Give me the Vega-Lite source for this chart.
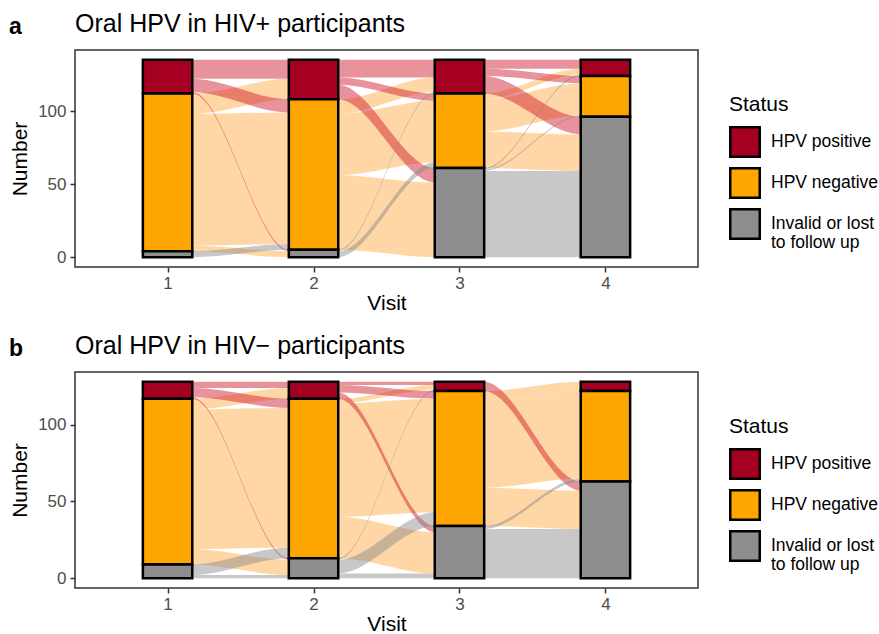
{
"$schema": "https://vega.github.io/schema/vega-lite/v6.json",
"padding": {"left": 8, "top": 11, "right": 0, "bottom": 0},
"background": "white",
"config": {
  "font": "Liberation Sans",
  "style": {"guide-label": {"lineHeight": 19}},
  "view": {"stroke": "#333333", "strokeWidth": 1.5},
  "axis": {"grid": false, "domain": false, "tickColor": "#333333", "tickWidth": 1.5, "tickSize": 5, "labelColor": "#4D4D4D", "labelFontSize": 17, "titleFontSize": 21, "titleFontWeight": "normal", "titleColor": "#000000", "labelPadding": 3},
  "legend": {"titleFontSize": 21, "titleFontWeight": "normal", "titleColor": "#000000", "labelFontSize": 17.5, "labelColor": "#000000", "symbolType": "square", "symbolSize": 870, "symbolStrokeColor": "#000000", "symbolStrokeWidth": 2.5, "symbolOpacity": 1, "rowPadding": 1, "labelOffset": 10, "titlePadding": 11, "gridAlign": "none", "labelLimit": 200},
  "title": {"color": "#000000", "fontWeight": "normal"}
},
"datasets": {
  "strata": [
    {"p":"a","visit":1,"s":"HPV positive","code":1,"n":23},
    {"p":"a","visit":1,"s":"HPV negative","code":2,"n":108},
    {"p":"a","visit":1,"s":"Invalid or lost to follow up","code":3,"n":4},
    {"p":"a","visit":2,"s":"HPV positive","code":1,"n":27},
    {"p":"a","visit":2,"s":"HPV negative","code":2,"n":103},
    {"p":"a","visit":2,"s":"Invalid or lost to follow up","code":3,"n":5},
    {"p":"a","visit":3,"s":"HPV positive","code":1,"n":23},
    {"p":"a","visit":3,"s":"HPV negative","code":2,"n":51},
    {"p":"a","visit":3,"s":"Invalid or lost to follow up","code":3,"n":61},
    {"p":"a","visit":4,"s":"HPV positive","code":1,"n":11},
    {"p":"a","visit":4,"s":"HPV negative","code":2,"n":28},
    {"p":"a","visit":4,"s":"Invalid or lost to follow up","code":3,"n":96},
    {"p":"b","visit":1,"s":"HPV positive","code":1,"n":11},
    {"p":"b","visit":1,"s":"HPV negative","code":2,"n":108},
    {"p":"b","visit":1,"s":"Invalid or lost to follow up","code":3,"n":9},
    {"p":"b","visit":2,"s":"HPV positive","code":1,"n":11},
    {"p":"b","visit":2,"s":"HPV negative","code":2,"n":104},
    {"p":"b","visit":2,"s":"Invalid or lost to follow up","code":3,"n":13},
    {"p":"b","visit":3,"s":"HPV positive","code":1,"n":6},
    {"p":"b","visit":3,"s":"HPV negative","code":2,"n":88},
    {"p":"b","visit":3,"s":"Invalid or lost to follow up","code":3,"n":34},
    {"p":"b","visit":4,"s":"HPV positive","code":1,"n":6},
    {"p":"b","visit":4,"s":"HPV negative","code":2,"n":59},
    {"p":"b","visit":4,"s":"Invalid or lost to follow up","code":3,"n":63}
  ],
  "flows": [
    {"p":"a","f":"a1NN","s":"HPV negative","pos":1,"lo":8,"hi":98},{"p":"a","f":"a1NN","s":"HPV negative","pos":1.1667,"lo":8,"hi":98},{"p":"a","f":"a1NN","s":"HPV negative","pos":1.8333,"lo":9,"hi":99},{"p":"a","f":"a1NN","s":"HPV negative","pos":2,"lo":9,"hi":99},
    {"p":"a","f":"a1NP","s":"HPV negative","pos":1,"lo":98,"hi":112},{"p":"a","f":"a1NP","s":"HPV negative","pos":1.1667,"lo":98,"hi":112},{"p":"a","f":"a1NP","s":"HPV negative","pos":1.8333,"lo":108,"hi":122},{"p":"a","f":"a1NP","s":"HPV negative","pos":2,"lo":108,"hi":122},
    {"p":"a","f":"a1NI","s":"HPV negative","pos":1,"lo":4,"hi":8},{"p":"a","f":"a1NI","s":"HPV negative","pos":1.1667,"lo":4,"hi":8},{"p":"a","f":"a1NI","s":"HPV negative","pos":1.8333,"lo":0,"hi":4},{"p":"a","f":"a1NI","s":"HPV negative","pos":2,"lo":0,"hi":4},
    {"p":"a","f":"a1PP","s":"HPV positive","pos":1,"lo":122,"hi":135},{"p":"a","f":"a1PP","s":"HPV positive","pos":1.1667,"lo":122,"hi":135},{"p":"a","f":"a1PP","s":"HPV positive","pos":1.8333,"lo":122,"hi":135},{"p":"a","f":"a1PP","s":"HPV positive","pos":2,"lo":122,"hi":135},
    {"p":"a","f":"a1PN","s":"HPV positive","pos":1,"lo":113,"hi":122},{"p":"a","f":"a1PN","s":"HPV positive","pos":1.1667,"lo":113,"hi":122},{"p":"a","f":"a1PN","s":"HPV positive","pos":1.8333,"lo":99,"hi":108},{"p":"a","f":"a1PN","s":"HPV positive","pos":2,"lo":99,"hi":108},
    {"p":"a","f":"a1PI","s":"HPV positive","pos":1,"lo":112,"hi":113},{"p":"a","f":"a1PI","s":"HPV positive","pos":1.1667,"lo":112,"hi":113},{"p":"a","f":"a1PI","s":"HPV positive","pos":1.8333,"lo":4,"hi":5},{"p":"a","f":"a1PI","s":"HPV positive","pos":2,"lo":4,"hi":5},
    {"p":"a","f":"a1IN","s":"Invalid or lost to follow up","pos":1,"lo":0,"hi":4},{"p":"a","f":"a1IN","s":"Invalid or lost to follow up","pos":1.1667,"lo":0,"hi":4},{"p":"a","f":"a1IN","s":"Invalid or lost to follow up","pos":1.8333,"lo":5,"hi":9},{"p":"a","f":"a1IN","s":"Invalid or lost to follow up","pos":2,"lo":5,"hi":9},

    {"p":"a","f":"a2NN","s":"HPV negative","pos":2,"lo":56,"hi":98},{"p":"a","f":"a2NN","s":"HPV negative","pos":2.1667,"lo":56,"hi":98},{"p":"a","f":"a2NN","s":"HPV negative","pos":2.8333,"lo":65,"hi":107},{"p":"a","f":"a2NN","s":"HPV negative","pos":3,"lo":65,"hi":107},
    {"p":"a","f":"a2NP","s":"HPV negative","pos":2,"lo":98,"hi":108},{"p":"a","f":"a2NP","s":"HPV negative","pos":2.1667,"lo":98,"hi":108},{"p":"a","f":"a2NP","s":"HPV negative","pos":2.8333,"lo":113,"hi":123},{"p":"a","f":"a2NP","s":"HPV negative","pos":3,"lo":113,"hi":123},
    {"p":"a","f":"a2NI","s":"HPV negative","pos":2,"lo":5,"hi":56},{"p":"a","f":"a2NI","s":"HPV negative","pos":2.1667,"lo":5,"hi":56},{"p":"a","f":"a2NI","s":"HPV negative","pos":2.8333,"lo":0,"hi":51},{"p":"a","f":"a2NI","s":"HPV negative","pos":3,"lo":0,"hi":51},
    {"p":"a","f":"a2PP","s":"HPV positive","pos":2,"lo":123,"hi":135},{"p":"a","f":"a2PP","s":"HPV positive","pos":2.1667,"lo":123,"hi":135},{"p":"a","f":"a2PP","s":"HPV positive","pos":2.8333,"lo":123,"hi":135},{"p":"a","f":"a2PP","s":"HPV positive","pos":3,"lo":123,"hi":135},
    {"p":"a","f":"a2PN","s":"HPV positive","pos":2,"lo":118,"hi":123},{"p":"a","f":"a2PN","s":"HPV positive","pos":2.1667,"lo":118,"hi":123},{"p":"a","f":"a2PN","s":"HPV positive","pos":2.8333,"lo":107,"hi":112},{"p":"a","f":"a2PN","s":"HPV positive","pos":3,"lo":107,"hi":112},
    {"p":"a","f":"a2PI","s":"HPV positive","pos":2,"lo":108,"hi":118},{"p":"a","f":"a2PI","s":"HPV positive","pos":2.1667,"lo":108,"hi":118},{"p":"a","f":"a2PI","s":"HPV positive","pos":2.8333,"lo":51,"hi":61},{"p":"a","f":"a2PI","s":"HPV positive","pos":3,"lo":51,"hi":61},
    {"p":"a","f":"a2IP","s":"Invalid or lost to follow up","pos":2,"lo":4,"hi":5},{"p":"a","f":"a2IP","s":"Invalid or lost to follow up","pos":2.1667,"lo":4,"hi":5},{"p":"a","f":"a2IP","s":"Invalid or lost to follow up","pos":2.8333,"lo":112,"hi":113},{"p":"a","f":"a2IP","s":"Invalid or lost to follow up","pos":3,"lo":112,"hi":113},
    {"p":"a","f":"a2IN","s":"Invalid or lost to follow up","pos":2,"lo":0,"hi":4},{"p":"a","f":"a2IN","s":"Invalid or lost to follow up","pos":2.1667,"lo":0,"hi":4},{"p":"a","f":"a2IN","s":"Invalid or lost to follow up","pos":2.8333,"lo":61,"hi":65},{"p":"a","f":"a2IN","s":"Invalid or lost to follow up","pos":3,"lo":61,"hi":65},

    {"p":"a","f":"a3NN","s":"HPV negative","pos":3,"lo":86,"hi":108},{"p":"a","f":"a3NN","s":"HPV negative","pos":3.1667,"lo":86,"hi":108},{"p":"a","f":"a3NN","s":"HPV negative","pos":3.8333,"lo":97,"hi":119},{"p":"a","f":"a3NN","s":"HPV negative","pos":4,"lo":97,"hi":119},
    {"p":"a","f":"a3NP","s":"HPV negative","pos":3,"lo":108,"hi":112},{"p":"a","f":"a3NP","s":"HPV negative","pos":3.1667,"lo":108,"hi":112},{"p":"a","f":"a3NP","s":"HPV negative","pos":3.8333,"lo":125,"hi":129},{"p":"a","f":"a3NP","s":"HPV negative","pos":4,"lo":125,"hi":129},
    {"p":"a","f":"a3NI","s":"HPV negative","pos":3,"lo":61,"hi":86},{"p":"a","f":"a3NI","s":"HPV negative","pos":3.1667,"lo":61,"hi":86},{"p":"a","f":"a3NI","s":"HPV negative","pos":3.8333,"lo":59,"hi":84},{"p":"a","f":"a3NI","s":"HPV negative","pos":4,"lo":59,"hi":84},
    {"p":"a","f":"a3II","s":"Invalid or lost to follow up","pos":3,"lo":0,"hi":59},{"p":"a","f":"a3II","s":"Invalid or lost to follow up","pos":3.1667,"lo":0,"hi":59},{"p":"a","f":"a3II","s":"Invalid or lost to follow up","pos":3.8333,"lo":0,"hi":59},{"p":"a","f":"a3II","s":"Invalid or lost to follow up","pos":4,"lo":0,"hi":59},
    {"p":"a","f":"a3PP","s":"HPV positive","pos":3,"lo":129,"hi":135},{"p":"a","f":"a3PP","s":"HPV positive","pos":3.1667,"lo":129,"hi":135},{"p":"a","f":"a3PP","s":"HPV positive","pos":3.8333,"lo":129,"hi":135},{"p":"a","f":"a3PP","s":"HPV positive","pos":4,"lo":129,"hi":135},
    {"p":"a","f":"a3PN","s":"HPV positive","pos":3,"lo":124,"hi":129},{"p":"a","f":"a3PN","s":"HPV positive","pos":3.1667,"lo":124,"hi":129},{"p":"a","f":"a3PN","s":"HPV positive","pos":3.8333,"lo":119,"hi":124},{"p":"a","f":"a3PN","s":"HPV positive","pos":4,"lo":119,"hi":124},
    {"p":"a","f":"a3PI","s":"HPV positive","pos":3,"lo":112,"hi":124},{"p":"a","f":"a3PI","s":"HPV positive","pos":3.1667,"lo":112,"hi":124},{"p":"a","f":"a3PI","s":"HPV positive","pos":3.8333,"lo":84,"hi":96},{"p":"a","f":"a3PI","s":"HPV positive","pos":4,"lo":84,"hi":96},
    {"p":"a","f":"a3IP","s":"Invalid or lost to follow up","pos":3,"lo":60,"hi":61},{"p":"a","f":"a3IP","s":"Invalid or lost to follow up","pos":3.1667,"lo":60,"hi":61},{"p":"a","f":"a3IP","s":"Invalid or lost to follow up","pos":3.8333,"lo":124,"hi":125},{"p":"a","f":"a3IP","s":"Invalid or lost to follow up","pos":4,"lo":124,"hi":125},
    {"p":"a","f":"a3IN","s":"Invalid or lost to follow up","pos":3,"lo":59,"hi":60},{"p":"a","f":"a3IN","s":"Invalid or lost to follow up","pos":3.1667,"lo":59,"hi":60},{"p":"a","f":"a3IN","s":"Invalid or lost to follow up","pos":3.8333,"lo":96,"hi":97},{"p":"a","f":"a3IN","s":"Invalid or lost to follow up","pos":4,"lo":96,"hi":97},

    {"p":"b","f":"b1NN","s":"HPV negative","pos":1,"lo":19,"hi":110},{"p":"b","f":"b1NN","s":"HPV negative","pos":1.1667,"lo":19,"hi":110},{"p":"b","f":"b1NN","s":"HPV negative","pos":1.8333,"lo":20,"hi":111},{"p":"b","f":"b1NN","s":"HPV negative","pos":2,"lo":20,"hi":111},
    {"p":"b","f":"b1NP","s":"HPV negative","pos":1,"lo":110,"hi":117},{"p":"b","f":"b1NP","s":"HPV negative","pos":1.1667,"lo":110,"hi":117},{"p":"b","f":"b1NP","s":"HPV negative","pos":1.8333,"lo":117,"hi":124},{"p":"b","f":"b1NP","s":"HPV negative","pos":2,"lo":117,"hi":124},
    {"p":"b","f":"b1NI","s":"HPV negative","pos":1,"lo":9,"hi":19},{"p":"b","f":"b1NI","s":"HPV negative","pos":1.1667,"lo":9,"hi":19},{"p":"b","f":"b1NI","s":"HPV negative","pos":1.8333,"lo":2,"hi":12},{"p":"b","f":"b1NI","s":"HPV negative","pos":2,"lo":2,"hi":12},
    {"p":"b","f":"b1PP","s":"HPV positive","pos":1,"lo":124,"hi":128},{"p":"b","f":"b1PP","s":"HPV positive","pos":1.1667,"lo":124,"hi":128},{"p":"b","f":"b1PP","s":"HPV positive","pos":1.8333,"lo":124,"hi":128},{"p":"b","f":"b1PP","s":"HPV positive","pos":2,"lo":124,"hi":128},
    {"p":"b","f":"b1PN","s":"HPV positive","pos":1,"lo":118,"hi":124},{"p":"b","f":"b1PN","s":"HPV positive","pos":1.1667,"lo":118,"hi":124},{"p":"b","f":"b1PN","s":"HPV positive","pos":1.8333,"lo":111,"hi":117},{"p":"b","f":"b1PN","s":"HPV positive","pos":2,"lo":111,"hi":117},
    {"p":"b","f":"b1PI","s":"HPV positive","pos":1,"lo":117,"hi":118},{"p":"b","f":"b1PI","s":"HPV positive","pos":1.1667,"lo":117,"hi":118},{"p":"b","f":"b1PI","s":"HPV positive","pos":1.8333,"lo":12,"hi":13},{"p":"b","f":"b1PI","s":"HPV positive","pos":2,"lo":12,"hi":13},
    {"p":"b","f":"b1IN","s":"Invalid or lost to follow up","pos":1,"lo":2,"hi":9},{"p":"b","f":"b1IN","s":"Invalid or lost to follow up","pos":1.1667,"lo":2,"hi":9},{"p":"b","f":"b1IN","s":"Invalid or lost to follow up","pos":1.8333,"lo":13,"hi":20},{"p":"b","f":"b1IN","s":"Invalid or lost to follow up","pos":2,"lo":13,"hi":20},
    {"p":"b","f":"b1II","s":"Invalid or lost to follow up","pos":1,"lo":0,"hi":2},{"p":"b","f":"b1II","s":"Invalid or lost to follow up","pos":1.1667,"lo":0,"hi":2},{"p":"b","f":"b1II","s":"Invalid or lost to follow up","pos":1.8333,"lo":0,"hi":2},{"p":"b","f":"b1II","s":"Invalid or lost to follow up","pos":2,"lo":0,"hi":2},

    {"p":"b","f":"b2NN","s":"HPV negative","pos":2,"lo":40,"hi":114},{"p":"b","f":"b2NN","s":"HPV negative","pos":2.1667,"lo":40,"hi":114},{"p":"b","f":"b2NN","s":"HPV negative","pos":2.8333,"lo":43,"hi":117},{"p":"b","f":"b2NN","s":"HPV negative","pos":3,"lo":43,"hi":117},
    {"p":"b","f":"b2NP","s":"HPV negative","pos":2,"lo":114,"hi":117},{"p":"b","f":"b2NP","s":"HPV negative","pos":2.1667,"lo":114,"hi":117},{"p":"b","f":"b2NP","s":"HPV negative","pos":2.8333,"lo":123,"hi":126},{"p":"b","f":"b2NP","s":"HPV negative","pos":3,"lo":123,"hi":126},
    {"p":"b","f":"b2NI","s":"HPV negative","pos":2,"lo":13,"hi":40},{"p":"b","f":"b2NI","s":"HPV negative","pos":2.1667,"lo":13,"hi":40},{"p":"b","f":"b2NI","s":"HPV negative","pos":2.8333,"lo":3,"hi":30},{"p":"b","f":"b2NI","s":"HPV negative","pos":3,"lo":3,"hi":30},
    {"p":"b","f":"b2PP","s":"HPV positive","pos":2,"lo":126,"hi":128},{"p":"b","f":"b2PP","s":"HPV positive","pos":2.1667,"lo":126,"hi":128},{"p":"b","f":"b2PP","s":"HPV positive","pos":2.8333,"lo":126,"hi":128},{"p":"b","f":"b2PP","s":"HPV positive","pos":3,"lo":126,"hi":128},
    {"p":"b","f":"b2PN","s":"HPV positive","pos":2,"lo":121,"hi":126},{"p":"b","f":"b2PN","s":"HPV positive","pos":2.1667,"lo":121,"hi":126},{"p":"b","f":"b2PN","s":"HPV positive","pos":2.8333,"lo":117,"hi":122},{"p":"b","f":"b2PN","s":"HPV positive","pos":3,"lo":117,"hi":122},
    {"p":"b","f":"b2PI","s":"HPV positive","pos":2,"lo":117,"hi":121},{"p":"b","f":"b2PI","s":"HPV positive","pos":2.1667,"lo":117,"hi":121},{"p":"b","f":"b2PI","s":"HPV positive","pos":2.8333,"lo":30,"hi":34},{"p":"b","f":"b2PI","s":"HPV positive","pos":3,"lo":30,"hi":34},
    {"p":"b","f":"b2IP","s":"Invalid or lost to follow up","pos":2,"lo":12,"hi":13},{"p":"b","f":"b2IP","s":"Invalid or lost to follow up","pos":2.1667,"lo":12,"hi":13},{"p":"b","f":"b2IP","s":"Invalid or lost to follow up","pos":2.8333,"lo":122,"hi":123},{"p":"b","f":"b2IP","s":"Invalid or lost to follow up","pos":3,"lo":122,"hi":123},
    {"p":"b","f":"b2IN","s":"Invalid or lost to follow up","pos":2,"lo":3,"hi":12},{"p":"b","f":"b2IN","s":"Invalid or lost to follow up","pos":2.1667,"lo":3,"hi":12},{"p":"b","f":"b2IN","s":"Invalid or lost to follow up","pos":2.8333,"lo":34,"hi":43},{"p":"b","f":"b2IN","s":"Invalid or lost to follow up","pos":3,"lo":34,"hi":43},
    {"p":"b","f":"b2II","s":"Invalid or lost to follow up","pos":2,"lo":0,"hi":3},{"p":"b","f":"b2II","s":"Invalid or lost to follow up","pos":2.1667,"lo":0,"hi":3},{"p":"b","f":"b2II","s":"Invalid or lost to follow up","pos":2.8333,"lo":0,"hi":3},{"p":"b","f":"b2II","s":"Invalid or lost to follow up","pos":3,"lo":0,"hi":3},

    {"p":"b","f":"b3NN","s":"HPV negative","pos":3,"lo":59,"hi":116},{"p":"b","f":"b3NN","s":"HPV negative","pos":3.1667,"lo":59,"hi":116},{"p":"b","f":"b3NN","s":"HPV negative","pos":3.8333,"lo":65,"hi":122},{"p":"b","f":"b3NN","s":"HPV negative","pos":4,"lo":65,"hi":122},
    {"p":"b","f":"b3NP","s":"HPV negative","pos":3,"lo":116,"hi":122},{"p":"b","f":"b3NP","s":"HPV negative","pos":3.1667,"lo":116,"hi":122},{"p":"b","f":"b3NP","s":"HPV negative","pos":3.8333,"lo":122,"hi":128},{"p":"b","f":"b3NP","s":"HPV negative","pos":4,"lo":122,"hi":128},
    {"p":"b","f":"b3NI","s":"HPV negative","pos":3,"lo":34,"hi":59},{"p":"b","f":"b3NI","s":"HPV negative","pos":3.1667,"lo":34,"hi":59},{"p":"b","f":"b3NI","s":"HPV negative","pos":3.8333,"lo":32,"hi":57},{"p":"b","f":"b3NI","s":"HPV negative","pos":4,"lo":32,"hi":57},
    {"p":"b","f":"b3II","s":"Invalid or lost to follow up","pos":3,"lo":0,"hi":32},{"p":"b","f":"b3II","s":"Invalid or lost to follow up","pos":3.1667,"lo":0,"hi":32},{"p":"b","f":"b3II","s":"Invalid or lost to follow up","pos":3.8333,"lo":0,"hi":32},{"p":"b","f":"b3II","s":"Invalid or lost to follow up","pos":4,"lo":0,"hi":32},
    {"p":"b","f":"b3PI","s":"HPV positive","pos":3,"lo":122,"hi":128},{"p":"b","f":"b3PI","s":"HPV positive","pos":3.1667,"lo":122,"hi":128},{"p":"b","f":"b3PI","s":"HPV positive","pos":3.8333,"lo":57,"hi":63},{"p":"b","f":"b3PI","s":"HPV positive","pos":4,"lo":57,"hi":63},
    {"p":"b","f":"b3IN","s":"Invalid or lost to follow up","pos":3,"lo":32,"hi":34},{"p":"b","f":"b3IN","s":"Invalid or lost to follow up","pos":3.1667,"lo":32,"hi":34},{"p":"b","f":"b3IN","s":"Invalid or lost to follow up","pos":3.8333,"lo":63,"hi":65},{"p":"b","f":"b3IN","s":"Invalid or lost to follow up","pos":4,"lo":63,"hi":65}
  ]
},
"resolve": {"scale": {"y": "independent", "fill": "independent"}, "legend": {"fill": "independent"}},
"spacing": 19,
"vconcat": [
  {
    "title": {"text": "a", "anchor": "start", "frame": "bounds", "fontWeight": "bold", "fontSize": 23, "baseline": "alphabetic", "offset": -46},
    "vconcat": [{
      "title": {"text": "Oral HPV in HIV+ participants", "anchor": "start", "frame": "group", "fontSize": 25, "baseline": "alphabetic", "offset": -7},
      "width": 623, "height": 217,
      "resolve": {"scale": {"y": "shared", "fill": "independent"}, "legend": {"fill": "independent"}},
      "layer": [
        {
          "data": {"name": "flows"},
          "transform": [{"filter": "datum.p == 'a'"}],
          "mark": {"type": "area", "interpolate": "monotone", "opacity": 0.45},
          "encoding": {
            "x": {"field": "pos", "type": "quantitative", "scale": {"domain": [0.4, 4.6], "nice": false, "zero": false}, "axis": {"values": [1,2,3,4], "format": "d", "title": "Visit", "titlePadding": 1}},
            "y": {"field": "lo", "type": "quantitative", "scale": {"domain": [-6.75, 141.75], "nice": false, "zero": false}, "axis": {"values": [0,50,100], "title": "Number", "titlePadding": 7, "labelPadding": 4}},
            "y2": {"field": "hi"},
            "fill": {"field": "s", "type": "nominal", "scale": {"domain": ["HPV positive","HPV negative","Invalid or lost to follow up"], "range": ["#CC1023","#FFA63A","#858585"]}, "legend": null},
            "detail": {"field": "f"}
          }
        },
        {
          "data": {"name": "strata"},
          "transform": [{"filter": "datum.p == 'a'"}],
          "mark": {"type": "bar", "width": 49.4, "stroke": "#000000", "strokeWidth": 2.5},
          "encoding": {
            "x": {"field": "visit", "type": "quantitative"},
            "y": {"field": "n", "type": "quantitative", "stack": "zero"},
            "fill": {"field": "s", "type": "nominal", "scale": {"domain": ["HPV positive","HPV negative","Invalid or lost to follow up"], "range": ["#A50021","#FFA500","#8E8E8E"]}, "legend": {"title": "Status", "orient": "none", "legendX": 654, "legendY": 44, "gridAlign": "none", "labelExpr": "datum.label == 'Invalid or lost to follow up' ? ['Invalid or lost', 'to follow up'] : datum.label"}},
            "order": {"field": "code", "sort": "descending"}
          }
        }
      ]
    }]
  },
  {
    "title": {"text": "b", "anchor": "start", "frame": "bounds", "fontWeight": "bold", "fontSize": 23, "baseline": "alphabetic", "offset": -46},
    "vconcat": [{
      "title": {"text": "Oral HPV in HIV− participants", "anchor": "start", "frame": "group", "fontSize": 25, "baseline": "alphabetic", "offset": -7},
      "width": 623, "height": 216,
      "resolve": {"scale": {"y": "shared", "fill": "independent"}, "legend": {"fill": "independent"}},
      "layer": [
        {
          "data": {"name": "flows"},
          "transform": [{"filter": "datum.p == 'b'"}],
          "mark": {"type": "area", "interpolate": "monotone", "opacity": 0.45},
          "encoding": {
            "x": {"field": "pos", "type": "quantitative", "scale": {"domain": [0.4, 4.6], "nice": false, "zero": false}, "axis": {"values": [1,2,3,4], "format": "d", "title": "Visit", "titlePadding": 1}},
            "y": {"field": "lo", "type": "quantitative", "scale": {"domain": [-6.4, 134.4], "nice": false, "zero": false}, "axis": {"values": [0,50,100], "title": "Number", "titlePadding": 7, "labelPadding": 4}},
            "y2": {"field": "hi"},
            "fill": {"field": "s", "type": "nominal", "scale": {"domain": ["HPV positive","HPV negative","Invalid or lost to follow up"], "range": ["#CC1023","#FFA63A","#858585"]}, "legend": null},
            "detail": {"field": "f"}
          }
        },
        {
          "data": {"name": "strata"},
          "transform": [{"filter": "datum.p == 'b'"}],
          "mark": {"type": "bar", "width": 49.4, "stroke": "#000000", "strokeWidth": 2.5},
          "encoding": {
            "x": {"field": "visit", "type": "quantitative"},
            "y": {"field": "n", "type": "quantitative", "stack": "zero"},
            "fill": {"field": "s", "type": "nominal", "scale": {"domain": ["HPV positive","HPV negative","Invalid or lost to follow up"], "range": ["#A50021","#FFA500","#8E8E8E"]}, "legend": {"title": "Status", "orient": "none", "legendX": 654, "legendY": 44, "gridAlign": "none", "labelExpr": "datum.label == 'Invalid or lost to follow up' ? ['Invalid or lost', 'to follow up'] : datum.label"}},
            "order": {"field": "code", "sort": "descending"}
          }
        }
      ]
    }]
  }
]
}
